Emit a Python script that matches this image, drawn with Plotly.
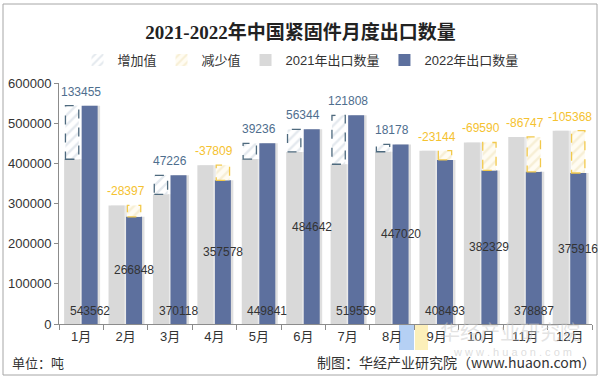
import plotly.graph_objects as go

months = ["1月", "2月", "3月", "4月", "5月", "6月", "7月", "8月", "9月", "10月", "11月", "12月"]
v2021 = [410107, 295245, 322892, 395387, 410605, 428298, 397751, 428842, 431637, 451919, 465634, 481284]
v2022 = [543562, 266848, 370118, 357578, 449841, 484642, 519559, 447020, 408493, 382329, 378887, 375916]
diff = [133455, -28397, 47226, -37809, 39236, 56344, 121808, 18178, -23144, -69590, -86747, -105368]

W, H = 601, 378
ML, MR, MT, MB = 59, 9, 83, 54
PW, PH = W - ML - MR, H - MT - MB
CAT = PW / len(months)

FONT = "Liberation Sans, Arial, Noto Sans CJK SC"
GRAY = "#D9D9D9"
BLUE = "#5D709E"
INC_LINE = "#4E6A7E"
DEC_LINE = "#F2C94C"

G_OFF, G_W = -0.385, 0.36
B_OFF, B_W = 0.01, 0.36
INSET = 0.03
SH = 0.055

inc = [d if d > 0 else None for d in diff]
dec = [-d if d < 0 else None for d in diff]

fig = go.Figure()
# soft shadows
fig.add_trace(go.Bar(x=months, y=v2022, offset=B_OFF + SH, width=B_W, showlegend=False, hoverinfo="skip",
                     marker=dict(color="rgba(150,150,150,0.30)", line=dict(width=0))))
fig.add_trace(go.Bar(x=months, y=v2021, offset=G_OFF + SH, width=G_W, showlegend=False, hoverinfo="skip",
                     marker=dict(color="rgba(170,170,170,0.25)", line=dict(width=0))))
fig.add_trace(go.Bar(x=months, y=v2021, name="2021年出口数量", offset=G_OFF, width=G_W,
                     marker=dict(color=GRAY, line=dict(width=0)), legendrank=3))
fig.add_trace(go.Bar(x=months, y=v2022, name="2022年出口数量", offset=B_OFF, width=B_W,
                     marker=dict(color=BLUE, line=dict(width=0)), legendrank=4))
fig.add_trace(go.Bar(x=months, y=inc, base=v2021, name="增加值", offset=G_OFF + INSET, width=G_W - 2 * INSET,
                     marker=dict(color="white", line=dict(width=0),
                                 pattern=dict(shape="/", fgcolor="#C9D3DE", bgcolor="white", size=7, solidity=0.35)),
                     legendrank=1))
fig.add_trace(go.Bar(x=months, y=dec, base=v2022, name="减少值", offset=B_OFF + INSET, width=B_W - 2 * INSET,
                     marker=dict(color="#FFFBEF", line=dict(width=0),
                                 pattern=dict(shape="/", fgcolor="#EFE2B8", bgcolor="#FFFCF2", size=7, solidity=0.35)),
                     legendrank=2))

shapes = []
for i, d in enumerate(diff):
    if d > 0:
        x0 = i + G_OFF + INSET
        x1 = x0 + G_W - 2 * INSET
        y0, y1, col = v2021[i], v2022[i], INC_LINE
    else:
        x0 = i + B_OFF + INSET
        x1 = x0 + B_W - 2 * INSET
        y0, y1, col = v2022[i], v2021[i], DEC_LINE
    shapes.append(dict(type="rect", xref="x", yref="y", x0=x0, x1=x1, y0=y0, y1=y1,
                       line=dict(color=col, width=1.3, dash="dash"), fillcolor="rgba(0,0,0,0)"))

def px_x(p):
    return (p - ML) / PW

def px_y(p):
    return (H - MB - p) / PH

# outer frame
shapes.append(dict(type="rect", xref="paper", yref="paper", x0=px_x(3), x1=px_x(597), y0=px_y(375), y1=px_y(4),
                   line=dict(color="#A6A6A6", width=1), fillcolor="rgba(0,0,0,0)", layer="below"))
# watermark logo blocks
shapes.append(dict(type="rect", xref="paper", yref="paper", x0=px_x(399), x1=px_x(414), y0=px_y(350), y1=px_y(325),
                   line=dict(width=0), fillcolor="rgba(120,170,235,0.55)", layer="below"))
shapes.append(dict(type="rect", xref="paper", yref="paper", x0=px_x(415), x1=px_x(428), y0=px_y(350), y1=px_y(325),
                   line=dict(width=0), fillcolor="rgba(250,225,130,0.55)", layer="below"))

annotations = []
lab_shift = (B_OFF + B_W / 2) * CAT
for i, v in enumerate(v2022):
    if i % 2 == 0:
        annotations.append(dict(x=months[i], y=0, yanchor="bottom", yshift=4, xshift=lab_shift,
                                text=str(v), showarrow=False, font=dict(family=FONT, size=12, color="#333333")))
    else:
        annotations.append(dict(x=months[i], y=v / 2, yanchor="middle", xshift=lab_shift,
                                text=str(v), showarrow=False, font=dict(family=FONT, size=12, color="#333333")))
for i, d in enumerate(diff):
    top = max(v2021[i], v2022[i])
    annotations.append(dict(x=months[i], y=top, yanchor="bottom", yshift=5,
                            text=str(d), showarrow=False,
                            font=dict(family=FONT, size=12, color="#4E6E8E" if d > 0 else "#F5C230")))

# watermark text
annotations.append(dict(xref="paper", yref="paper", x=px_x(510), y=px_y(331), xanchor="center", yanchor="middle",
                        text="华经产业研究院", showarrow=False,
                        font=dict(family="Noto Sans CJK SC", size=20, color="rgba(200,200,200,0.5)")))
annotations.append(dict(xref="paper", yref="paper", x=px_x(512), y=px_y(352), xanchor="center", yanchor="middle",
                        text="w w w . h u a o n . c o m", showarrow=False,
                        font=dict(family=FONT, size=11, color="rgba(200,200,200,0.6)")))
# footer
annotations.append(dict(xref="paper", yref="paper", x=px_x(10), y=px_y(362), xanchor="left", yanchor="middle",
                        text="单位：吨", showarrow=False, font=dict(family="Noto Sans CJK SC", size=13, color="#333333")))
annotations.append(dict(xref="paper", yref="paper", x=px_x(598), y=px_y(362), xanchor="right", yanchor="middle",
                        text="制图：华经产业研究院（www.huaon.com）", showarrow=False,
                        font=dict(family="Noto Sans CJK SC", size=14, color="#333333")))

fig.update_layout(
    width=W, height=H,
    margin=dict(l=ML, r=MR, t=MT, b=MB, autoexpand=False),
    barmode="overlay",
    paper_bgcolor="white", plot_bgcolor="white",
    title=dict(text="<b>2021-2022年中国紧固件月度出口数量</b>", x=0.5, xanchor="center",
               xref="container", yref="container", y=1 - 32 / H, yanchor="middle",
               font=dict(family="Liberation Serif, Noto Sans CJK SC", size=19, color="#222222")),
    legend=dict(orientation="h", x=px_x(W / 2), xanchor="center",
                y=px_y(60), yanchor="middle",
                font=dict(family=FONT, size=13, color="#333333"), itemwidth=30, traceorder="normal",
                bgcolor="rgba(0,0,0,0)"),
    xaxis=dict(type="category", showgrid=False, showline=True, linecolor="#8C8C8C", linewidth=1,
               ticks="outside", tickson="boundaries", ticklen=5, tickcolor="#8C8C8C", tickangle=0,
               tickfont=dict(family=FONT, size=13, color="#333333"), range=[-0.5, len(months) - 0.5]),
    yaxis=dict(range=[0, 600000], dtick=100000, tickformat="d", showgrid=False, showline=True,
               linecolor="#8C8C8C", linewidth=1, ticks="outside", ticklen=4, tickcolor="#8C8C8C",
               tickfont=dict(family=FONT, size=13, color="#333333"), zeroline=False),
    shapes=shapes, annotations=annotations, showlegend=True,
)

fig.write_html("out.html", config={"displayModeBar": False},
               post_script="document.body.style.margin='0';")
